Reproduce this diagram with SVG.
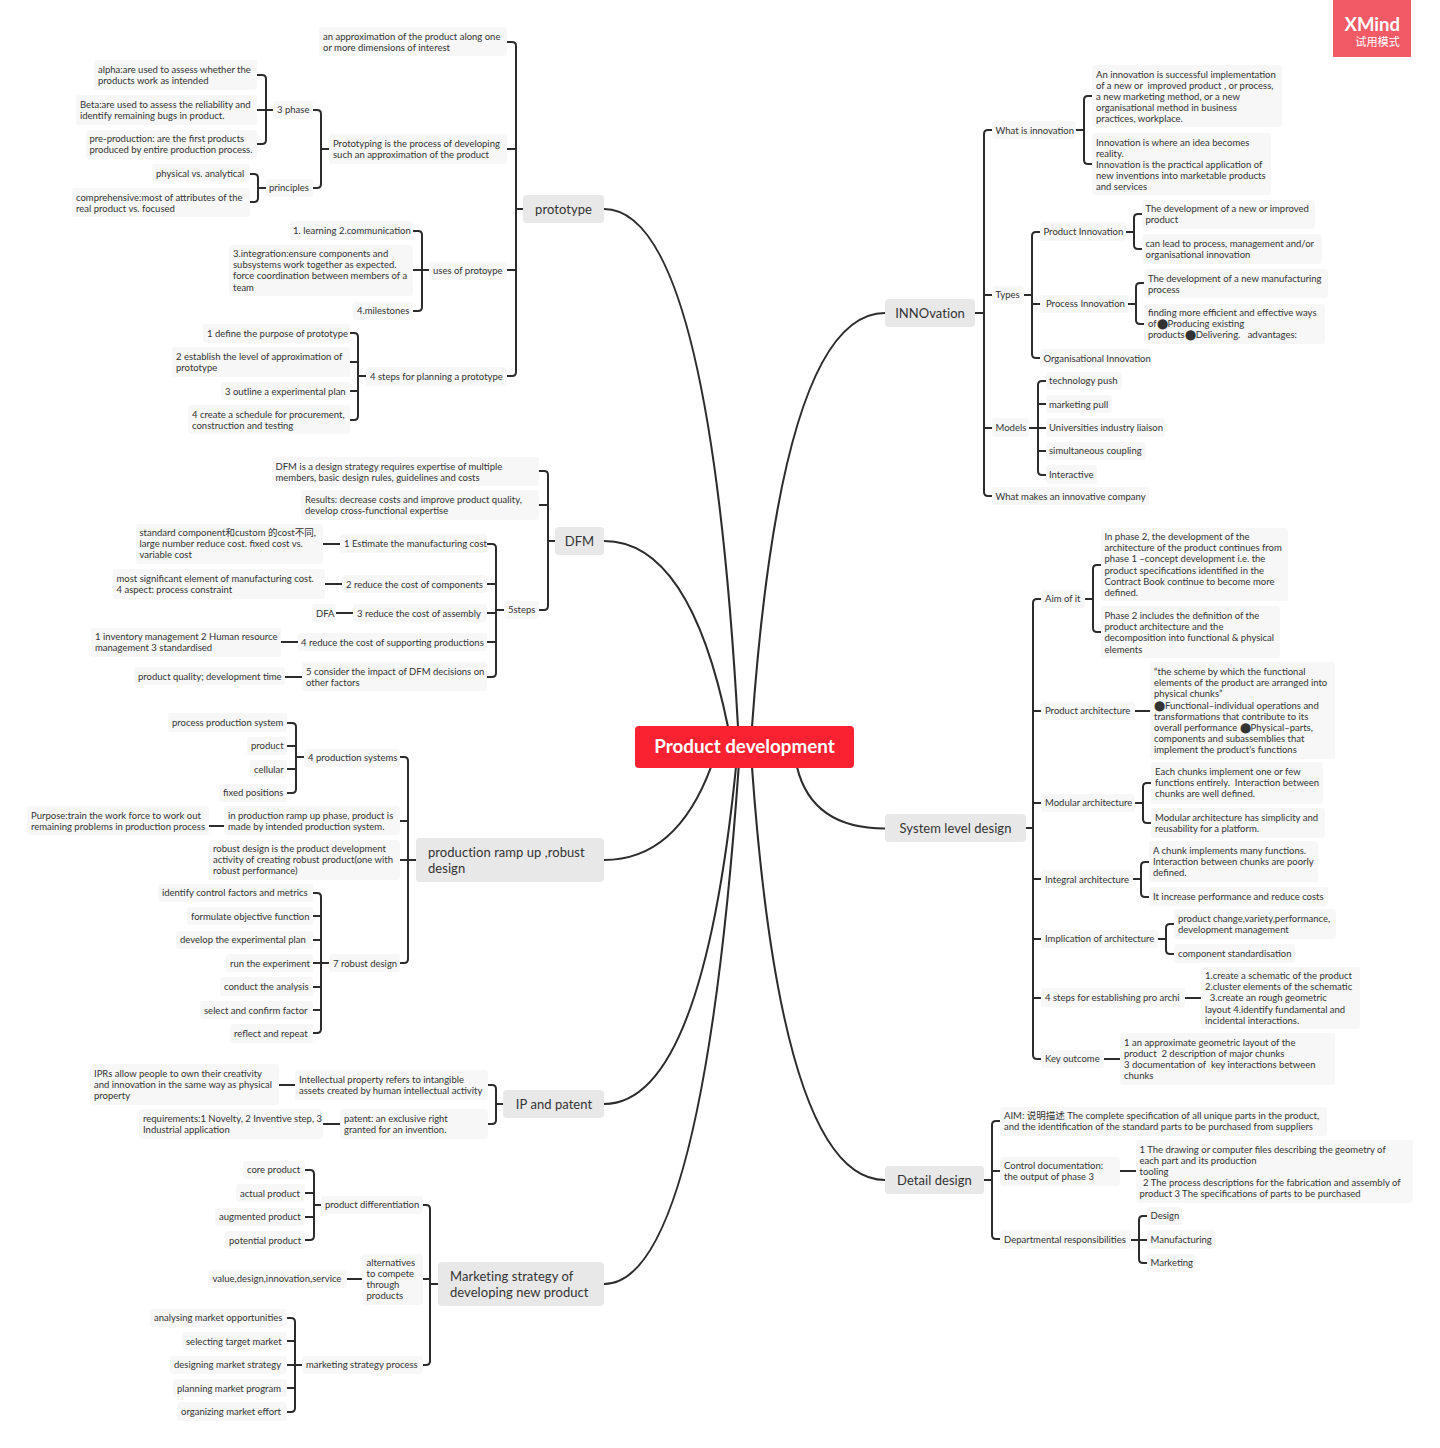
<svg xmlns="http://www.w3.org/2000/svg" width="1440" height="1448" viewBox="0 0 1440 1448">
<style>
text{font-family:"Lato","Noto Sans CJK SC",sans-serif;font-size:9.5px;fill:#333;white-space:pre}
.n rect{fill:#f7f7f7}
.m rect{fill:#e8e8e8}
.m text{font-size:13px;fill:#333;letter-spacing:.05px}
.c path{fill:none;stroke:#2c2c2c;stroke-width:2;stroke-linecap:butt}
.c .b{stroke-width:2.1}
</style>
<rect width="1440" height="1448" fill="#fff"/>
<g id="connectors" class="c">
<path class="b" d="M604 209Q709 209 738 727"/>
<path class="b" d="M604 541Q690 541 728 727"/>
<path class="b" d="M604 860Q676.500 860 711 767"/>
<path class="b" d="M604 1104Q702 1104 736 767"/>
<path class="b" d="M604 1284Q702 1284 738.700 767"/>
<path class="b" d="M885 313Q781.500 313 752 727"/>
<path class="b" d="M885 828.500Q812 828.500 797 767"/>
<path class="b" d="M885 1180Q781.500 1180 752 767"/>
<path d="M507 42H512Q516 42 516 46V372Q516 376 512 376H507M507 149H516M507 270H516M516 209H523"/>
<path d="M313 110H317Q321 110 321 114V184Q321 188 317 188H313M321 149H329"/>
<path d="M257 75H262Q266 75 266 79V140Q266 144 262 144H257M257 110H273"/>
<path d="M250 174H254Q258 174 258 178V198Q258 202 254 202H250M258 188H266"/>
<path d="M413 231H418Q422 231 422 235V307Q422 311 418 311H413M413 270H429"/>
<path d="M350 333H354Q358 333 358 337V416Q358 420 354 420H350M350 362H358M350 391H358M358 376H366"/>
<path d="M539 471H544Q548 471 548 475V606Q548 610 544 610H539M539 505H548M548 541H555"/>
<path d="M487 544H492Q496 544 496 548V673Q496 677 492 677H487M487 584H496M487 613H496M487 642H496M496 610H504"/>
<path d="M323 544H340M325 584H342M336 613H353M281 642H298M285 677H302"/>
<path d="M400 757H404Q408 757 408 761V959Q408 963 404 963H400M400 821H408M400 860H416"/>
<path d="M287 723H292Q296 723 296 727V789Q296 793 292 793H287M287 746H296M287 769H296M296 757H304"/>
<path d="M209 826H224"/>
<path d="M313 893H317Q321 893 321 897V1029Q321 1033 317 1033H313M313 916H321M313 940H321M313 963H329M313 987H321M313 1010H321"/>
<path d="M488 1085H492Q496 1085 496 1089V1120Q496 1124 492 1124H488M496 1104H503"/>
<path d="M279 1085H295M323 1124H340"/>
<path d="M423 1205H426Q430 1205 430 1209V1361Q430 1365 426 1365H423M423 1279H430M430 1284H438"/>
<path d="M305 1170H310Q314 1170 314 1174V1236Q314 1240 310 1240H305M305 1193H314M305 1217H314M314 1205H321"/>
<path d="M347 1279H362"/>
<path d="M287 1318H291Q295 1318 295 1322V1408Q295 1412 291 1412H287M287 1341H295M287 1365H302M287 1388H295"/>
<path d="M992 130H988Q984 130 984 134V492Q984 496 988 496H992M984 295H992M984 428H992M975 313H984"/>
<path d="M1092 96H1088Q1084 96 1084 100V160Q1084 164 1088 164H1092M1076 130H1084"/>
<path d="M1040 232H1036Q1032 232 1032 236V354Q1032 358 1036 358H1040M1024 295H1032M1032 304H1040"/>
<path d="M1142 214H1138Q1134 214 1134 218V245Q1134 249 1138 249H1142M1126 232H1134"/>
<path d="M1144 283H1140Q1136 283 1136 287V320Q1136 324 1140 324H1144M1128 304H1136"/>
<path d="M1046 381H1042Q1038 381 1038 385V471Q1038 475 1042 475H1046M1038 404H1046M1029 428H1046M1038 451H1046"/>
<path d="M1041 599H1037Q1033 599 1033 603V1055Q1033 1059 1037 1059H1041M1033 711H1041M1033 803H1041M1033 879H1041M1033 939H1041M1033 998H1041M1026 828H1033"/>
<path d="M1101 565H1097Q1093 565 1093 569V628Q1093 632 1097 632H1101M1085 599H1093"/>
<path d="M1135 711H1150"/>
<path d="M1151 783H1147Q1143 783 1143 787V819Q1143 823 1147 823H1151M1135 803H1143"/>
<path d="M1149 862H1145Q1141 862 1141 866V893Q1141 897 1145 897H1149M1133 879H1141"/>
<path d="M1174 924H1170Q1166 924 1166 928V950Q1166 954 1170 954H1174M1158 939H1166"/>
<path d="M1185 998H1201M1104 1059H1120"/>
<path d="M1000 1121H996Q992 1121 992 1125V1235Q992 1239 996 1239H1000M1000 1171H992M984 1180H992"/>
<path d="M1120 1171H1136"/>
<path d="M1147 1216H1143Q1139 1216 1139 1220V1259Q1139 1263 1143 1263H1147M1131 1240H1147"/>
</g>

<g id="root"><rect x="635" y="726" width="219" height="42" rx="4" fill="#fa2130"/><text x="744.5" y="753.300" text-anchor="middle" style="font-size:18.800px;font-weight:700;fill:#fff">Product development</text></g>

<g id="watermark"><rect x="1333" y="0" width="78" height="57" fill="#f25a66"/><text x="1400" y="31" text-anchor="end" style="font-size:18.500px;font-weight:700;fill:#fff">XMind</text><text x="1400" y="46" text-anchor="end" style="font-size:11.200px;fill:#fff">试用模式</text></g>

<g id="prototype" class="m"><rect x="523" y="195" width="81" height="28" rx="4"/><text x="563.5" y="213.5" text-anchor="middle">prototype</text></g>
<g id="p1" class="n"><rect x="319" y="27" width="188" height="29" rx="3"/><text><tspan x="323" y="40">an approximation of the product along one</tspan><tspan x="323" y="51">or more dimensions of interest</tspan></text></g>
<g id="p2" class="n"><rect x="329" y="134" width="178" height="30" rx="3"/><text><tspan x="333" y="146.7">Prototyping is the process of developing</tspan><tspan x="333" y="157.8">such an approximation of the product</tspan></text></g>
<g id="p3" class="n"><rect x="273" y="101" width="40" height="18" rx="3"/><text x="277" y="113.2">3 phase</text></g>
<g id="p4" class="n"><rect x="94" y="60" width="163" height="30" rx="3"/><text><tspan x="98" y="73.2">alpha:are used to assess whether the</tspan><tspan x="98" y="84.3">products work as intended</tspan></text></g>
<g id="p5" class="n"><rect x="76" y="95" width="181" height="30" rx="3"/><text><tspan x="80" y="107.7">Beta:are used to assess the reliability and</tspan><tspan x="80" y="118.8">identify remaining bugs in product.</tspan></text></g>
<g id="p6" class="n"><rect x="86" y="130" width="171" height="29" rx="3"/><text><tspan x="89.5" y="142.2">pre-production: are the first products</tspan><tspan x="89.5" y="153.3">produced by entire production process.</tspan></text></g>
<g id="p7" class="n"><rect x="266" y="179" width="47" height="18" rx="3"/><text x="269" y="191.2">principles</text></g>
<g id="p8" class="n"><rect x="152" y="164" width="98" height="18" rx="3"/><text x="156" y="177.2">physical vs. analytical</text></g>
<g id="p9" class="n"><rect x="72" y="188" width="178" height="29" rx="3"/><text><tspan x="76" y="200.7">comprehensive:most of attributes of the</tspan><tspan x="76" y="211.8">real product vs. focused</tspan></text></g>
<g id="p10" class="n"><rect x="429" y="262" width="78" height="18" rx="3"/><text x="433" y="274.2">uses of protoype</text></g>
<g id="p11" class="n"><rect x="290" y="221" width="123" height="19" rx="3"/><text x="293" y="234.2">1. learning 2.communication</text></g>
<g id="p12" class="n"><rect x="229" y="245" width="184" height="51" rx="3"/><text><tspan x="233" y="257.2">3.integration:ensure components and</tspan><tspan x="233" y="268.3">subsystems work together as expected.</tspan><tspan x="233" y="279.4">force coordination between members of a</tspan><tspan x="233" y="290.5">team</tspan></text></g>
<g id="p13" class="n"><rect x="353" y="302" width="60" height="18" rx="3"/><text x="357" y="314.2">4.milestones</text></g>
<g id="p14" class="n"><rect x="366" y="367" width="141" height="19" rx="3"/><text x="370" y="380.2">4 steps for planning a prototype</text></g>
<g id="p15" class="n"><rect x="203" y="324" width="147" height="19" rx="3"/><text x="207" y="336.7">1 define the purpose of prototype</text></g>
<g id="p16" class="n"><rect x="172" y="347" width="178" height="30" rx="3"/><text><tspan x="176" y="360.2">2 establish the level of approximation of</tspan><tspan x="176" y="371.3">prototype</tspan></text></g>
<g id="p17" class="n"><rect x="221" y="382" width="129" height="18" rx="3"/><text x="225" y="394.7">3 outline a experimental plan</text></g>
<g id="p18" class="n"><rect x="188" y="405" width="162" height="29" rx="3"/><text><tspan x="192" y="418.2">4 create a schedule for procurement,</tspan><tspan x="192" y="429.3">construction and testing</tspan></text></g>

<g id="dfm" class="m"><rect x="555" y="527" width="49" height="28" rx="4"/><text x="579.5" y="545.5" text-anchor="middle">DFM</text></g>
<g id="d1" class="n"><rect x="272" y="457" width="267" height="29" rx="3"/><text><tspan x="275.5" y="469.7">DFM is a design strategy requires expertise of multiple</tspan><tspan x="275.5" y="480.8">members, basic design rules, guidelines and costs</tspan></text></g>
<g id="d2" class="n"><rect x="301" y="490" width="238" height="30" rx="3"/><text><tspan x="305" y="502.7">Results: decrease costs and improve product quality,</tspan><tspan x="305" y="513.8">develop cross-functional expertise</tspan></text></g>
<g id="d3" class="n"><rect x="504" y="601" width="35" height="18" rx="3"/><text x="508" y="613.2">5steps</text></g>
<g id="d4" class="n"><rect x="340" y="534" width="147" height="19" rx="3"/><text x="344" y="547.2">1 Estimate the manufacturing cost</text></g>
<g id="d5" class="n"><rect x="136" y="524" width="187" height="40" rx="3"/><text><tspan x="139.5" y="536.2">standard component和custom 的cost不同,</tspan><tspan x="139.5" y="547.3">large number reduce cost. fixed cost vs.</tspan><tspan x="139.5" y="558.4">variable cost</tspan></text></g>
<g id="d6" class="n"><rect x="342" y="575" width="145" height="18" rx="3"/><text x="346" y="587.7">2 reduce the cost of components</text></g>
<g id="d7" class="n"><rect x="113" y="569" width="212" height="30" rx="3"/><text><tspan x="116.5" y="581.7">most significant element of manufacturing cost.</tspan><tspan x="116.5" y="592.8">4 aspect: process constraint</tspan></text></g>
<g id="d8" class="n"><rect x="353" y="604" width="134" height="18" rx="3"/><text x="357" y="616.7">3 reduce the cost of assembly</text></g>
<g id="d9" class="n"><rect x="312" y="604" width="24" height="18" rx="3"/><text x="316" y="616.7">DFA</text></g>
<g id="d10" class="n"><rect x="298" y="633" width="189" height="18" rx="3"/><text x="301" y="645.7">4 reduce the cost of supporting productions</text></g>
<g id="d11" class="n"><rect x="91" y="628" width="190" height="29" rx="3"/><text><tspan x="95" y="640.2">1 inventory management 2 Human resource</tspan><tspan x="95" y="651.3">management 3 standardised</tspan></text></g>
<g id="d12" class="n"><rect x="302" y="662" width="185" height="29" rx="3"/><text><tspan x="306" y="674.7">5 consider the impact of DFM decisions on</tspan><tspan x="306" y="685.8">other factors</tspan></text></g>
<g id="d13" class="n"><rect x="134" y="667" width="151" height="18" rx="3"/><text x="138" y="680.2">product quality; development time</text></g>

<g id="production" class="m"><rect x="416" y="838" width="188" height="44" rx="4"/><text><tspan x="428" y="857">production ramp up ,robust</tspan><tspan x="428" y="873">design</tspan></text></g>
<g id="r1" class="n"><rect x="304" y="749" width="96" height="18" rx="3"/><text x="308" y="761">4 production systems</text></g>
<g id="r2" class="n"><rect x="168" y="713" width="119" height="19" rx="3"/><text x="172" y="726.2">process production system</text></g>
<g id="r3" class="n"><rect x="247" y="737" width="40" height="18" rx="3"/><text x="251" y="749.2">product</text></g>
<g id="r4" class="n"><rect x="250" y="760" width="37" height="18" rx="3"/><text x="254" y="772.7">cellular</text></g>
<g id="r5" class="n"><rect x="219" y="784" width="68" height="18" rx="3"/><text x="223" y="796.2">fixed positions</text></g>
<g id="r6" class="n"><rect x="224" y="806" width="176" height="29" rx="3"/><text><tspan x="228" y="818.7">in production ramp up phase, product is</tspan><tspan x="228" y="829.8">made by intended production system.</tspan></text></g>
<g id="r7" class="n"><rect x="27" y="806" width="182" height="29" rx="3"/><text><tspan x="31" y="818.7">Purpose:train the work force to work out</tspan><tspan x="31" y="829.8">remaining problems in production process</tspan></text></g>
<g id="r8" class="n"><rect x="209" y="840" width="191" height="40" rx="3"/><text><tspan x="213" y="852.2">robust design is the product development</tspan><tspan x="213" y="863.3">activity of creating robust product(one with</tspan><tspan x="213" y="874.4">robust performance)</tspan></text></g>
<g id="r9" class="n"><rect x="329" y="954" width="71" height="18" rx="3"/><text x="333" y="966.7">7 robust design</text></g>
<g id="r10" class="n"><rect x="158" y="884" width="155" height="18" rx="3"/><text x="162" y="896.2">identify control factors and metrics</text></g>
<g id="r11" class="n"><rect x="187" y="907" width="126" height="18" rx="3"/><text x="191" y="919.7">formulate objective function</text></g>
<g id="r12" class="n"><rect x="176" y="931" width="137" height="18" rx="3"/><text x="180" y="943.2">develop the experimental plan</text></g>
<g id="r13" class="n"><rect x="226" y="954" width="87" height="18" rx="3"/><text x="230" y="966.7">run the experiment</text></g>
<g id="r14" class="n"><rect x="220" y="977" width="93" height="19" rx="3"/><text x="224" y="990.2">conduct the analysis</text></g>
<g id="r15" class="n"><rect x="200" y="1001" width="113" height="18" rx="3"/><text x="204" y="1013.7">select and confirm factor</text></g>
<g id="r16" class="n"><rect x="230" y="1024" width="83" height="19" rx="3"/><text x="234" y="1037.2">reflect and repeat</text></g>

<g id="ip" class="m"><rect x="503" y="1090" width="101" height="28" rx="4"/><text x="554" y="1109" text-anchor="middle">IP and patent</text></g>
<g id="i1" class="n"><rect x="295" y="1070" width="193" height="30" rx="3"/><text><tspan x="299" y="1082.7">Intellectual property refers to intangible</tspan><tspan x="299" y="1093.8">assets created by human intellectual activity</tspan></text></g>
<g id="i2" class="n"><rect x="90" y="1064" width="189" height="41" rx="3"/><text><tspan x="94" y="1077.2">IPRs allow people to own their creativity</tspan><tspan x="94" y="1088.3">and innovation in the same way as physical</tspan><tspan x="94" y="1099.4">property</tspan></text></g>
<g id="i3" class="n"><rect x="340" y="1109" width="148" height="30" rx="3"/><text><tspan x="344" y="1121.7">patent: an exclusive right</tspan><tspan x="344" y="1132.8">granted for an invention.</tspan></text></g>
<g id="i4" class="n"><rect x="139" y="1109" width="184" height="30" rx="3"/><text><tspan x="143" y="1121.7">requirements:1 Novelty, 2 Inventive step, 3</tspan><tspan x="143" y="1132.8">Industrial application</tspan></text></g>

<g id="marketing" class="m"><rect x="438" y="1262" width="166" height="44" rx="4"/><text><tspan x="450" y="1281">Marketing strategy of</tspan><tspan x="450" y="1297">developing new product</tspan></text></g>
<g id="k1" class="n"><rect x="321" y="1196" width="102" height="18" rx="3"/><text x="325" y="1208.2">product differentiation</text></g>
<g id="k2" class="n"><rect x="243" y="1161" width="62" height="18" rx="3"/><text x="247" y="1173.2">core product</text></g>
<g id="k3" class="n"><rect x="236" y="1184" width="69" height="18" rx="3"/><text x="240" y="1196.7">actual product</text></g>
<g id="k4" class="n"><rect x="215" y="1208" width="90" height="18" rx="3"/><text x="219" y="1220.2">augmented product</text></g>
<g id="k5" class="n"><rect x="225" y="1231" width="80" height="18" rx="3"/><text x="229" y="1243.7">potential product</text></g>
<g id="k6" class="n"><rect x="362" y="1254" width="61" height="51" rx="3"/><text><tspan x="366.5" y="1265.7">alternatives</tspan><tspan x="366.5" y="1276.8">to compete</tspan><tspan x="366.5" y="1287.9">through</tspan><tspan x="366.5" y="1299">products</tspan></text></g>
<g id="k7" class="n"><rect x="208" y="1270" width="139" height="18" rx="3"/><text x="212.5" y="1282.2">value,design,innovation,service</text></g>
<g id="k8" class="n"><rect x="302" y="1356" width="121" height="18" rx="3"/><text x="306" y="1368.2">marketing strategy process</text></g>
<g id="k9" class="n"><rect x="150" y="1309" width="137" height="18" rx="3"/><text x="154" y="1321.2">analysing market opportunities</text></g>
<g id="k10" class="n"><rect x="182" y="1332" width="105" height="18" rx="3"/><text x="186" y="1344.7">selecting target market</text></g>
<g id="k11" class="n"><rect x="170" y="1356" width="117" height="18" rx="3"/><text x="174" y="1368.2">designing market strategy</text></g>
<g id="k12" class="n"><rect x="173" y="1379" width="114" height="18" rx="3"/><text x="177" y="1391.7">planning market program</text></g>
<g id="k13" class="n"><rect x="177" y="1402" width="110" height="19" rx="3"/><text x="181" y="1415.2">organizing market effort</text></g>

<g id="innovation" class="m"><rect x="885" y="299" width="90" height="28" rx="4"/><text x="930" y="318" text-anchor="middle">INNOvation</text></g>
<g id="v1" class="n"><rect x="992" y="121" width="84" height="18" rx="3"/><text x="995.5" y="133.7">What is innovation</text></g>
<g id="v2" class="n"><rect x="1092" y="65" width="190" height="62" rx="3"/><text><tspan x="1096" y="77.7">An innovation is successful implementation</tspan><tspan x="1096" y="88.8">of a new or  improved product , or process,</tspan><tspan x="1096" y="99.9">a new marketing method, or a new</tspan><tspan x="1096" y="111">organisational method in business</tspan><tspan x="1096" y="122.1">practices, workplace.</tspan></text></g>
<g id="v3" class="n"><rect x="1092" y="133" width="179" height="62" rx="3"/><text><tspan x="1096" y="145.7">Innovation is where an idea becomes</tspan><tspan x="1096" y="156.8">reality.</tspan><tspan x="1096" y="167.9">Innovation is the practical application of</tspan><tspan x="1096" y="179">new inventions into marketable products</tspan><tspan x="1096" y="190.1">and services</tspan></text></g>
<g id="v4" class="n"><rect x="992" y="286" width="32" height="18" rx="3"/><text x="995.5" y="298.2">Types</text></g>
<g id="v5" class="n"><rect x="1040" y="222" width="86" height="19" rx="3"/><text x="1043.5" y="235.2">Product Innovation</text></g>
<g id="v6" class="n"><rect x="1142" y="200" width="173" height="29" rx="3"/><text><tspan x="1145.5" y="212.2">The development of a new or improved</tspan><tspan x="1145.5" y="223.3">product</tspan></text></g>
<g id="v7" class="n"><rect x="1142" y="234" width="180" height="30" rx="3"/><text><tspan x="1145.5" y="246.7">can lead to process, management and/or</tspan><tspan x="1145.5" y="257.8">organisational innovation</tspan></text></g>
<g id="v8" class="n"><rect x="1040" y="295" width="88" height="18" rx="3"/><text x="1046" y="307.2">Process Innovation</text></g>
<g id="v9" class="n"><rect x="1144" y="269" width="184" height="29" rx="3"/><text><tspan x="1148" y="281.7">The development of a new manufacturing</tspan><tspan x="1148" y="292.8">process</tspan></text></g>
<g id="v10" class="n"><rect x="1144" y="304" width="181" height="40" rx="3"/><text><tspan x="1148" y="316.2">finding more efficient and effective ways</tspan><tspan x="1148" y="327.3">of⬤Producing existing</tspan><tspan x="1148" y="338.4">products⬤Delivering.   advantages:</tspan></text></g>
<g id="v11" class="n"><rect x="1040" y="349" width="112" height="18" rx="3"/><text x="1043.5" y="361.7">Organisational Innovation</text></g>
<g id="v12" class="n"><rect x="992" y="418" width="37" height="19" rx="3"/><text x="995.5" y="431.2">Models</text></g>
<g id="v13" class="n"><rect x="1046" y="372" width="76" height="18" rx="3"/><text x="1049" y="384.2">technology push</text></g>
<g id="v14" class="n"><rect x="1046" y="395" width="66" height="18" rx="3"/><text x="1049" y="407.7">marketing pull</text></g>
<g id="v15" class="n"><rect x="1046" y="418" width="119" height="19" rx="3"/><text x="1049" y="431.2">Universities industry liaison</text></g>
<g id="v16" class="n"><rect x="1046" y="442" width="100" height="18" rx="3"/><text x="1049" y="454.2">simultaneous coupling</text></g>
<g id="v17" class="n"><rect x="1046" y="465" width="51" height="19" rx="3"/><text x="1049" y="478.2">Interactive</text></g>
<g id="v18" class="n"><rect x="992" y="487" width="157" height="18" rx="3"/><text x="995.5" y="500.2">What makes an innovative company</text></g>

<g id="system" class="m"><rect x="885" y="814" width="141" height="28" rx="4"/><text x="955.5" y="833" text-anchor="middle">System level design</text></g>
<g id="s1" class="n"><rect x="1041" y="590" width="44" height="18" rx="3"/><text x="1045" y="602.2">Aim of it</text></g>
<g id="s2" class="n"><rect x="1101" y="528" width="187" height="73" rx="3"/><text><tspan x="1104.5" y="540.2">In phase 2, the development of the</tspan><tspan x="1104.5" y="551.3">architecture of the product continues from</tspan><tspan x="1104.5" y="562.4">phase 1 –concept development i.e. the</tspan><tspan x="1104.5" y="573.5">product specifications identified in the</tspan><tspan x="1104.5" y="584.6">Contract Book continue to become more</tspan><tspan x="1104.5" y="595.7">defined.</tspan></text></g>
<g id="s3" class="n"><rect x="1101" y="606" width="179" height="52" rx="3"/><text><tspan x="1104.5" y="619.2">Phase 2 includes the definition of the</tspan><tspan x="1104.5" y="630.3">product architecture and the</tspan><tspan x="1104.5" y="641.4">decomposition into functional &amp; physical</tspan><tspan x="1104.5" y="652.5">elements</tspan></text></g>
<g id="s4" class="n"><rect x="1041" y="702" width="94" height="18" rx="3"/><text x="1045" y="714.2">Product architecture</text></g>
<g id="s5" class="n"><rect x="1150" y="662" width="185" height="97" rx="3"/><text><tspan x="1154" y="675.2">“the scheme by which the functional</tspan><tspan x="1154" y="686.3">elements of the product are arranged into</tspan><tspan x="1154" y="697.4">physical chunks”</tspan><tspan x="1154" y="708.5">⬤Functional–individual operations and</tspan><tspan x="1154" y="719.6">transformations that contribute to its</tspan><tspan x="1154" y="730.7">overall performance ⬤Physical–parts,</tspan><tspan x="1154" y="741.8">components and subassemblies that</tspan><tspan x="1154" y="752.9">implement the product's functions</tspan></text></g>
<g id="s6" class="n"><rect x="1041" y="794" width="94" height="18" rx="3"/><text x="1045" y="806.2">Modular architecture</text></g>
<g id="s7" class="n"><rect x="1151" y="762" width="172" height="42" rx="3"/><text><tspan x="1155" y="775.2">Each chunks implement one or few</tspan><tspan x="1155" y="786.3">functions entirely.  Interaction between</tspan><tspan x="1155" y="797.4">chunks are well defined.</tspan></text></g>
<g id="s8" class="n"><rect x="1151" y="808" width="174" height="30" rx="3"/><text><tspan x="1155" y="820.7">Modular architecture has simplicity and</tspan><tspan x="1155" y="831.8">reusability for a platform.</tspan></text></g>
<g id="s9" class="n"><rect x="1041" y="870" width="92" height="18" rx="3"/><text x="1045" y="882.7">Integral architecture</text></g>
<g id="s10" class="n"><rect x="1149" y="841" width="169" height="41" rx="3"/><text><tspan x="1153" y="854.2">A chunk implements many functions.</tspan><tspan x="1153" y="865.3">Interaction between chunks are poorly</tspan><tspan x="1153" y="876.4">defined.</tspan></text></g>
<g id="s11" class="n"><rect x="1149" y="887" width="179" height="19" rx="3"/><text x="1153" y="900.2">It increase performance and reduce costs</text></g>
<g id="s12" class="n"><rect x="1041" y="930" width="117" height="18" rx="3"/><text x="1045" y="942.2">Implication of architecture</text></g>
<g id="s13" class="n"><rect x="1174" y="909" width="162" height="30" rx="3"/><text><tspan x="1178" y="922.2">product change,variety,performance,</tspan><tspan x="1178" y="933.3">development management</tspan></text></g>
<g id="s14" class="n"><rect x="1174" y="944" width="121" height="19" rx="3"/><text x="1178" y="956.7">component standardisation</text></g>
<g id="s15" class="n"><rect x="1041" y="988" width="144" height="19" rx="3"/><text x="1045" y="1001.2">4 steps for establishing pro archi</text></g>
<g id="s16" class="n"><rect x="1201" y="967" width="159" height="62" rx="3"/><text><tspan x="1205" y="979.2">1.create a schematic of the product</tspan><tspan x="1205" y="990.3">2.cluster elements of the schematic</tspan><tspan x="1205" y="1001.4">  3.create an rough geometric</tspan><tspan x="1205" y="1012.5">layout 4.identify fundamental and</tspan><tspan x="1205" y="1023.6">incidental interactions.</tspan></text></g>
<g id="s17" class="n"><rect x="1041" y="1050" width="63" height="18" rx="3"/><text x="1045" y="1062.2">Key outcome</text></g>
<g id="s18" class="n"><rect x="1120" y="1033" width="215" height="52" rx="3"/><text><tspan x="1124" y="1045.7">1 an approximate geometric layout of the</tspan><tspan x="1124" y="1056.8">product  2 description of major chunks</tspan><tspan x="1124" y="1067.9">3 documentation of  key interactions between</tspan><tspan x="1124" y="1079">chunks</tspan></text></g>

<g id="detail" class="m"><rect x="885" y="1166" width="99" height="28" rx="4"/><text x="934.5" y="1185" text-anchor="middle">Detail design</text></g>
<g id="t1" class="n"><rect x="1000" y="1107" width="327" height="29" rx="3"/><text><tspan x="1004" y="1119.2">AIM: 说明描述 The complete specification of all unique parts in the product,</tspan><tspan x="1004" y="1130.3">and the identification of the standard parts to be purchased from suppliers</tspan></text></g>
<g id="t2" class="n"><rect x="1000" y="1157" width="120" height="29" rx="3"/><text><tspan x="1004" y="1169.2">Control documentation:</tspan><tspan x="1004" y="1180.3">the output of phase 3</tspan></text></g>
<g id="t3" class="n"><rect x="1136" y="1140" width="277" height="63" rx="3"/><text><tspan x="1139.5" y="1152.7">1 The drawing or computer files describing the geometry of</tspan><tspan x="1139.5" y="1163.8">each part and its production</tspan><tspan x="1139.5" y="1174.9">tooling</tspan><tspan x="1143" y="1186">2 The process descriptions for the fabrication and assembly of</tspan><tspan x="1139.5" y="1197.1">product 3 The specifications of parts to be purchased</tspan></text></g>
<g id="t4" class="n"><rect x="1000" y="1230" width="131" height="19" rx="3"/><text x="1004" y="1243.2">Departmental responsibilities</text></g>
<g id="t5" class="n"><rect x="1147" y="1207" width="35" height="18" rx="3"/><text x="1150.5" y="1219.2">Design</text></g>
<g id="t6" class="n"><rect x="1147" y="1230" width="68" height="19" rx="3"/><text x="1150.5" y="1243.2">Manufacturing</text></g>
<g id="t7" class="n"><rect x="1147" y="1254" width="49" height="18" rx="3"/><text x="1150.5" y="1266.2">Marketing</text></g>
</svg>
